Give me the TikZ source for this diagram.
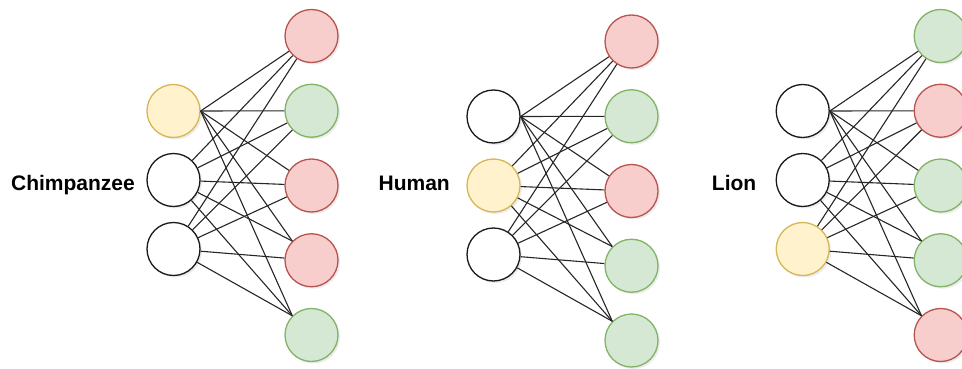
\documentclass[tikz,border=0pt]{standalone}
\usepackage{fontspec}
\setmainfont{Liberation Sans}
\usetikzlibrary{shadows}

% draw.io palette
\definecolor{yelFill}{HTML}{FFF2CC}
\definecolor{yelLine}{HTML}{D6B656}
\definecolor{grnFill}{HTML}{D5E8D4}
\definecolor{grnLine}{HTML}{82B366}
\definecolor{redFill}{HTML}{F8CECC}
\definecolor{redLine}{HTML}{B85450}

\tikzset{
    unit/.style={circle, minimum size=53pt, inner sep=0pt, line width=1.3pt,
        drop shadow={opacity=0.15, shadow xshift=2pt, shadow yshift=-2pt}},
    plain/.style={unit, draw=black!90, fill=white},
    hot/.style={unit, draw=yelLine, fill=yelFill},
    good/.style={unit, draw=grnLine, fill=grnFill},
    bad/.style={unit, draw=redLine, fill=redFill},
    link/.style={line width=1.1pt, black!85},
    animal/.style={font=\bfseries\fontsize{21}{25}\selectfont,
        anchor=base east, inner sep=0pt}
}

% all 15 links of one net, #1 is the node prefix
\newcommand{\wires}[1]{%
    \foreach \o in {1,2,3}
        \draw[link] (#1-in1.east) -- (#1-out\o);
    \foreach \o in {4,5}
        \draw[link] (#1-in1.east) -- (#1-out\o.135);
    \foreach \i in {2,3}
        \foreach \o in {1,2,3}
            \draw[link] (#1-in\i) -- (#1-out\o);
    \draw[link] (#1-in2) -- (#1-out4.135);
    \draw[link] (#1-in3) -- (#1-out4);
    \foreach \i in {2,3}
        \draw[link] (#1-in\i) -- (#1-out5.135);
}

\begin{document}
\begin{tikzpicture}[x=1pt, y=-1pt]

    \clip (0,0) rectangle (962,369);

    % Chimpanzee
    \begin{scope}[shift={(173.5,0)}]
        \foreach \s [count=\i] in {hot,plain,plain}
            \node[\s] (c-in\i) at (0,{111+69*(\i-1)}) {};
        \foreach \s [count=\o] in {bad,good,bad,bad,good}
            \node[\s] (c-out\o) at (138,{36+74.75*(\o-1)}) {};
        \wires{c}
    \end{scope}
    \node[animal] (c-name) at (135,190) {Chimpanzee};

    % Human
    \begin{scope}[shift={(493.5,5.5)}]
        \foreach \s [count=\i] in {plain,hot,plain}
            \node[\s] (h-in\i) at (0,{111+69*(\i-1)}) {};
        \foreach \s [count=\o] in {bad,good,bad,good,good}
            \node[\s] (h-out\o) at (138,{36+74.75*(\o-1)}) {};
        \wires{h}
    \end{scope}
    \node[animal] (h-name) at (450,190) {Human};

    % Lion
    \begin{scope}[shift={(802.7,0)}]
        \foreach \s [count=\i] in {plain,plain,hot}
            \node[\s] (l-in\i) at (0,{111+69*(\i-1)}) {};
        \foreach \s [count=\o] in {good,bad,good,good,bad}
            \node[\s] (l-out\o) at (138,{36+74.75*(\o-1)}) {};
        \wires{l}
    \end{scope}
    \node[animal] (l-name) at (756.5,190) {Lion};

\end{tikzpicture}
\end{document}
